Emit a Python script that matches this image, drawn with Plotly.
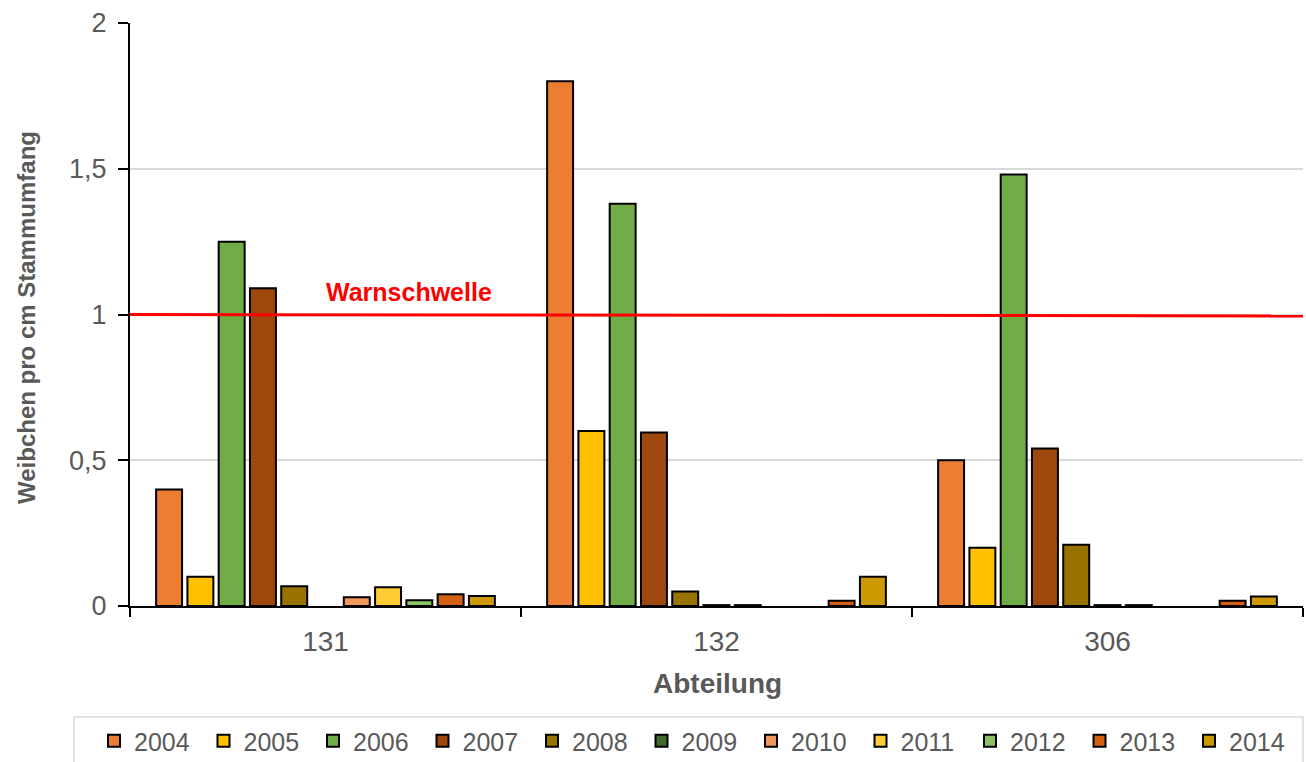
import plotly.graph_objects as go

categories = ["131", "132", "306"]
years = ["2004", "2005", "2006", "2007", "2008", "2009", "2010", "2011", "2012", "2013", "2014"]
values = {
    "2004": [0.40, 1.80, 0.50],
    "2005": [0.10, 0.60, 0.20],
    "2006": [1.25, 1.38, 1.48],
    "2007": [1.09, 0.595, 0.54],
    "2008": [0.068, 0.05, 0.21],
    "2009": [None, 0.003, 0.003],
    "2010": [0.03, 0.003, 0.003],
    "2011": [0.064, None, None],
    "2012": [0.02, None, None],
    "2013": [0.04, 0.018, 0.018],
    "2014": [0.034, 0.10, 0.033],
}
colors = {
    "2004": "#ED7D31", "2005": "#FFC000", "2006": "#70AD47", "2007": "#9E480E",
    "2008": "#997300", "2009": "#43682B", "2010": "#F1975A", "2011": "#FFCD33",
    "2012": "#8CC168", "2013": "#D26012", "2014": "#CC9A00",
}
threshold = 1.0
y_ticks = [0, 0.5, 1, 1.5, 2]

FONT = "Liberation Sans, Arial, sans-serif"
GRAY = "#595959"

L, R, T, B = 130, 3, 23, 156
W, H = 1306, 762
PW, PH = W - L - R, H - T - B


def px_x(p):
    return (p - L) / PW


def px_y(p):
    return (H - B - p) / PH


fig = go.Figure()
for yr in years:
    fig.add_trace(go.Bar(
        x=categories, y=values[yr], name=yr,
        marker=dict(color=colors[yr], line=dict(color="black", width=2)),
    ))

fig.add_shape(type="line", xref="paper", yref="y", x0=0, x1=1,
              y0=threshold, y1=threshold * 0.995,
              line=dict(color="#FF0000", width=3), layer="above")
fig.add_annotation(text="<b>Warnschwelle</b>", xref="paper", yref="y",
                   x=px_x(409), y=1.076, xanchor="center", yanchor="middle", showarrow=False,
                   font=dict(family=FONT, size=25, color="#FF0000"))

# axis titles
fig.add_annotation(text="<b>Abteilung</b>", xref="paper", yref="paper",
                   x=px_x(717), y=px_y(684), xanchor="center", yanchor="middle", showarrow=False,
                   font=dict(family=FONT, size=28, color=GRAY))
fig.add_annotation(text="<b>Weibchen pro cm Stammumfang</b>", xref="paper", yref="paper",
                   x=px_x(26), y=px_y(318), xanchor="center", yanchor="middle", showarrow=False,
                   textangle=-90, font=dict(family=FONT, size=24, color=GRAY))

# legend border drawn as a shape
fig.add_shape(type="rect", xref="paper", yref="paper",
              x0=px_x(74), x1=px_x(1303), y0=px_y(780), y1=px_y(717),
              line=dict(color="#D9D9D9", width=1.5), fillcolor="rgba(0,0,0,0)")

fig.update_layout(
    width=W, height=H,
    margin=dict(l=L, r=R, t=T, b=B, autoexpand=False),
    paper_bgcolor="white", plot_bgcolor="white",
    separators=",.",
    barmode="group", bargap=0.12, bargroupgap=0.17,
    font=dict(family=FONT, color=GRAY),
    showlegend=True,
    legend=dict(
        orientation="h", x=px_x(94), xanchor="left",
        y=px_y(718), yanchor="top",
        entrywidth=64.5, entrywidthmode="pixels",
        font=dict(family=FONT, size=25, color=GRAY),
        bgcolor="rgba(0,0,0,0)", borderwidth=0,
    ),
    xaxis=dict(
        automargin=False,
        showline=True, linecolor="black", linewidth=2,
        ticks="outside", tickson="boundaries", ticklen=9, tickwidth=2, tickcolor="black",
        tickfont=dict(family=FONT, size=28, color=GRAY), ticklabelstandoff=9,
        showgrid=False,
    ),
    yaxis=dict(
        automargin=False,
        range=[0, 2], tickvals=y_ticks,
        showline=True, linecolor="black", linewidth=2,
        ticks="outside", ticklen=10, tickwidth=2, tickcolor="black",
        tickfont=dict(family=FONT, size=27, color=GRAY), ticklabelstandoff=6,
        showgrid=True, gridcolor="#D9D9D9", gridwidth=2,
        zeroline=False,
    ),
)

fig.write_html(
    "out.html",
    config={"responsive": False, "displayModeBar": False},
    post_script="document.body.style.margin='0';document.body.style.overflow='hidden';",
)
